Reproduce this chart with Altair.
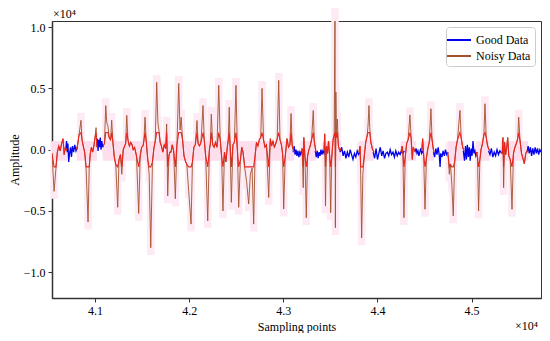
import altair as alt
import pandas as pd

# ---- data (x: sampling points, y: amplitude) ----
good_x = [40690, 40698, 40705, 40712, 40720, 40730, 40740, 40750, 40760, 40772, 40785, 40798, 40812,
          41015, 41025, 41032, 41040, 41048, 41056, 41064, 41072, 41082, 41090,
          43105, 43115, 43125, 43135, 43145, 43155, 43165, 43175, 43185, 43195,
          43340, 43350, 43360, 43370, 43380, 43390, 43400, 43410, 43420, 43432, 43440,
          43605, 43620, 43635, 43650, 43665, 43680, 43695, 43710, 43725, 43740, 43755, 43770, 43785, 43800, 43815,
          43955, 43970, 43985, 44000, 44015, 44030, 44045, 44060, 44075, 44090, 44105, 44120, 44135, 44150,
          44165, 44180, 44195, 44210, 44225, 44240, 44255, 44270, 44285,
          44400, 44410, 44420, 44430, 44440, 44450, 44460, 44470, 44485,
          44595, 44607, 44620, 44632, 44645, 44657, 44665, 44672, 44685, 44697, 44710, 44722, 44735, 44750,
          44912, 44925, 44935, 44945, 44955, 44965, 44975, 44985, 44995, 45005, 45015, 45025, 45035, 45045, 45060,
          45180, 45195, 45210, 45225, 45240, 45255, 45270, 45285, 45300, 45320,
          45590, 45600, 45612, 45625, 45637, 45650, 45662, 45675, 45687, 45700, 45712, 45725, 45737]
good_y = [0, 700, -200, 500, -1000, -300, 200, -600, 300, -200, 400, -100, 200,
          300, 900, -100, 800, 200, 1000, 0, 700, 200, 400,
          -200, 300, -400, 0, -500, -100, -600, -200, -400, -100,
          -100, -600, -100, -700, -200, -500, 0, -400, -100, -300, 100,
          -200, 200, -500, -100, -700, -200, -600, 0, -400, -800, -300, -600, -100, -400, -200,
          -200, -700, 100, -800, -300, 200, -500, -100, -700, -300, -200, -500, 0, -400,
          -200, -600, -100, -500, -200, -400, -100, -300, -100,
          -200, 100, -300, -100, -500, -200, 100, -300, -100,
          -200, -600, 100, -400, 200, -500, -1400, -300, -600, -100, -500, 0, -400, -200,
          -100, -900, 300, -800, 400, -600, 200, -900, 100, -500, 700, -300, -100, -500, -200,
          -100, -400, 100, -600, -200, -500, 0, -400, -100, -300,
          -200, 300, -300, 200, -500, 100, -400, 200, -300, 100, -400, 0, -200]

noisy_x = [40543, 40565, 40585, 40600, 40615, 40630, 40645, 40660, 40672, 40685, 40700,
           40805, 40815, 40830, 40851, 40862, 40875, 40890, 40905, 40926, 40938, 40950, 40962, 40975, 40990, 41000, 41011, 41020,
           41085, 41100, 41114, 41125, 41138, 41150, 41165, 41177, 41190, 41205, 41220, 41241, 41255, 41270, 41284, 41300,
           41315, 41325, 41337, 41350, 41365, 41380, 41393, 41405, 41420, 41440, 41464, 41480, 41495, 41510, 41520, 41531,
           41545, 41560, 41575, 41592, 41610, 41625, 41640, 41655, 41668, 41680, 41692, 41705, 41720, 41735, 41750, 41761,
           41772, 41785, 41795, 41807, 41820, 41835, 41853, 41870, 41889, 41903, 41915, 41930, 41945, 41959, 41975, 41995,
           42020, 42035, 42050, 42065, 42083, 42095, 42110, 42125, 42147, 42160, 42175, 42197, 42215, 42225, 42235, 42250,
           42265, 42280, 42295, 42314, 42330, 42345, 42359, 42375, 42390, 42405, 42415, 42426, 42448, 42465, 42480, 42497,
           42526, 42545, 42558, 42572, 42590, 42610, 42632, 42650, 42668, 42685, 42700, 42715, 42730, 42745, 42760, 42774,
           42790, 42805, 42820, 42845, 42862, 42875, 42890, 42905, 42920, 42935, 42951, 42965, 42980, 42992, 43004, 43020,
           43039, 43055, 43070, 43082, 43095, 43113,
           43188, 43200, 43212, 43218, 43230, 43244, 43258, 43272, 43285, 43300, 43318, 43330, 43347,
           43432, 43440, 43448, 43458, 43470, 43480, 43492, 43503, 43515, 43528, 43540, 43549, 43553, 43558, 43565, 43574,
           43585, 43600, 43613,
           43804, 43815, 43822, 43832, 43845, 43860, 43875, 43890, 43900, 43910, 43918, 43930, 43945, 43963,
           44250, 44262, 44270, 44281, 44295, 44310, 44325, 44345, 44358, 44370, 44380, 44395, 44409,
           44470, 44480, 44490, 44505, 44520, 44535, 44550, 44568, 44580, 44592, 44600,
           44745, 44755, 44763, 44775, 44790, 44805, 44820, 44835, 44850, 44876, 44890, 44905, 44919,
           45050, 45062, 45074, 45088, 45100, 45115, 45130, 45142, 45155, 45170, 45190,
           45310, 45325, 45333, 45340, 45350, 45362, 45375, 45383, 45395, 45410, 45429, 45445, 45460, 45475, 45490, 45500,
           45515, 45530, 45545, 45560, 45575, 45590, 45600]
noisy_y = [-300, -3400, -1500, -200, 300, -100, 500, 900, -400, 200, -100,
           0, 400, 1200, 2400, 800, 300, -200, -1500, -5900, -1500, -300, 200, -200, 400, 1000, 1800, 200,
           300, 500, 3600, 2200, 1900, 1000, 800, 2400, 600, -600, -1200, -4700, -800, -400, -2000, 0,
           300, 500, 2800, 800, 300, 600, 400, 0, 200, -500, -5200, -500, 200, 300, 800, 2650,
           600, -800, -2000, -8000, -1000, 100, 700, 5500, 2200, 1500, 600, 300, -200, 400, 100, 2100,
           -3770, -500, -200, -200, 400, -100, -4000, 400, 5400, 1600, 2650, 800, -500, -900, -1200, -3360,
           -6070, -1000, 200, 400, 2380, 500, 300, 600, 3600, 800, -500, -5800, 0, 500, 2900, 400,
           200, 600, 200, 5250, 800, -600, -5000, -200, -1000, 200, 800, 3470, -4300, 400, 600, 5250,
           -4700, -800, 200, -200, -1500, -2600, -4430, -2000, -1500, -6070, -500, 600, 300, 800, 1000, 5000,
           800, 200, 400, -3900, 900, 300, 700, 200, 500, 900, 5660, 800, 400, -300, -4840, -600,
           900, 200, 400, 2950, 300, -200,
           -200, 100, -3100, 1000, -600, -5550, -500, 0, 300, 800, 3200, 600, -200,
           0, 1300, -4600, 300, -300, 700, -500, -5140, -600, 800, 1200, 11500, -6370, 4700, 1000, 2500,
           300, -100, 100,
           -200, 300, -2100, -7190, -2000, -500, 600, 1100, 2000, 3600, 1800, 600, 100, -200,
           -200, 300, -200, -5550, -600, 500, 800, 2840, 900, -800, 200, -100, -200,
           -100, 900, -400, -4860, -700, 100, 600, 3340, 800, 100, -200,
           -200, -800, -2000, -1200, -2800, -5400, -1000, 200, 800, 3200, 900, 200, -100,
           -200, -600, -5000, -800, 0, 500, 1200, 3750, 1000, 300, -100,
           -200, -300, 1000, -3100, 600, -400, 300, 1000, -500, -800, -4860, -300, 200, 500, 900, 2650,
           700, -300, -700, -1150, -300, -100, -200]

x_ticks = [41000, 42000, 43000, 44000, 45000]
y_ticks = [-10000, -5000, 0, 5000, 10000]
series_names = ["Good Data", "Noisy Data"]
x_domain = [40543, 45737]
y_domain = [-12100, 10500]

# ---- tables ----
def with_segments(xs, ys):
    seg, rows = 0, []
    for i, (x, y) in enumerate(zip(xs, ys)):
        if i > 0 and x - xs[i - 1] > 45:
            seg += 1
        rows.append({"x": x, "y": y, "seg": seg})
    return pd.DataFrame(rows)

good = with_segments(good_x, good_y)
noisy = with_segments(noisy_x, noisy_y)

cols = noisy[noisy["y"].abs() >= 2000].copy()
cols["x0"] = cols["x"] - 40
cols["x1"] = cols["x"] + 40
cols["y0"] = cols["y"].clip(upper=0) - 600
cols["y1"] = cols["y"].clip(lower=0) + 600

base = noisy.groupby("seg").agg(x0=("x", "min"), x1=("x", "max")).reset_index()
base["y0"] = -900
base["y1"] = 700

FONT = "Liberation Serif"
xs = alt.Scale(domain=x_domain, nice=False, zero=False)
ys = alt.Scale(domain=y_domain, nice=False, zero=False)
color_scale = alt.Scale(domain=series_names, range=["#0000ee", "#a0522d"])

x_axis = alt.Axis(values=x_ticks, labelExpr="format(datum.value/10000, '.1f')",
                  title="Sampling points", grid=False, tickSize=4, labelPadding=3,
                  titlePadding=5, labelFont=FONT, titleFont=FONT, labelFontSize=12,
                  titleFontSize=12)
y_axis = alt.Axis(values=y_ticks, labelExpr="replace(format(datum.value/10000, '.1f'), '-', '\u2212')",
                  title="Amplitude", grid=False, tickSize=4, labelPadding=3, titlePadding=2,
                  labelFont=FONT, titleFont=FONT, labelFontSize=12, titleFontSize=12)

col_layer = alt.Chart(cols).mark_rect(color="#fdeaf4").encode(
    x=alt.X("x0:Q", scale=xs, axis=x_axis), x2="x1:Q",
    y=alt.Y("y0:Q", scale=ys, axis=y_axis), y2="y1:Q")

base_layer = alt.Chart(base).mark_rect(color="#fcdeed").encode(
    x=alt.X("x0:Q", scale=xs), x2="x1:Q",
    y=alt.Y("y0:Q", scale=ys), y2="y1:Q")

good_layer = alt.Chart(good).mark_line(strokeWidth=1.3, clip=True).encode(
    x=alt.X("x:Q", scale=xs), y=alt.Y("y:Q", scale=ys), detail="seg:N",
    color=alt.Color("s:N", scale=color_scale,
                    legend=alt.Legend(title=None, orient="top-right"))
).transform_calculate(s="'Good Data'")

brown_layer = alt.Chart(noisy).mark_line(strokeWidth=0.9, clip=True).encode(
    x=alt.X("x:Q", scale=xs), y=alt.Y("y:Q", scale=ys), detail="seg:N",
    color=alt.Color("s:N", scale=color_scale)
).transform_calculate(s="'Noisy Data'")

red_layer = alt.Chart(noisy).mark_line(strokeWidth=1.1, clip=True, color="#e8261c").encode(
    x=alt.X("x:Q", scale=xs), y=alt.Y("yc:Q", scale=ys), detail="seg:N"
).transform_calculate(yc="clamp(datum.y, -1400, 1400)")

mult_top = alt.Chart(pd.DataFrame({"t": ["\u00d710\u2074"]})).mark_text(
    font=FONT, fontSize=12, align="left", baseline="alphabetic", color="black").encode(
    text="t:N", x=alt.value(1), y=alt.value(-3))
mult_bot = alt.Chart(pd.DataFrame({"t": ["\u00d710\u2074"]})).mark_text(
    font=FONT, fontSize=12, align="right", baseline="alphabetic", color="black").encode(
    text="t:N", x=alt.value(486), y=alt.value(309))

chart = alt.layer(col_layer, base_layer, good_layer, brown_layer, red_layer, mult_top, mult_bot).properties(
    width=489, height=277,
    autosize=alt.AutoSizeParams(type="none"),
    padding={"left": 44, "top": 13, "right": 1, "bottom": 35},
).configure_view(stroke="#333333", strokeWidth=1).configure_axis(
    labelFont=FONT, titleFont=FONT, labelFontSize=12, titleFontSize=12,
    titleFontWeight="normal", labelColor="black", titleColor="black",
    domainColor="#333333", domainWidth=1.5, tickColor="#333333"
).configure_legend(
    labelFont=FONT, labelFontSize=12, labelColor="black",
    symbolType="M-1.5,0H1.5", symbolStrokeWidth=2, symbolSize=256,
    strokeColor="#cccccc", fillColor="white",
    padding=4, cornerRadius=3, offset=6, rowPadding=1, labelOffset=8
)

chart.save("out.html", embed_options={"renderer": "svg", "actions": False})
